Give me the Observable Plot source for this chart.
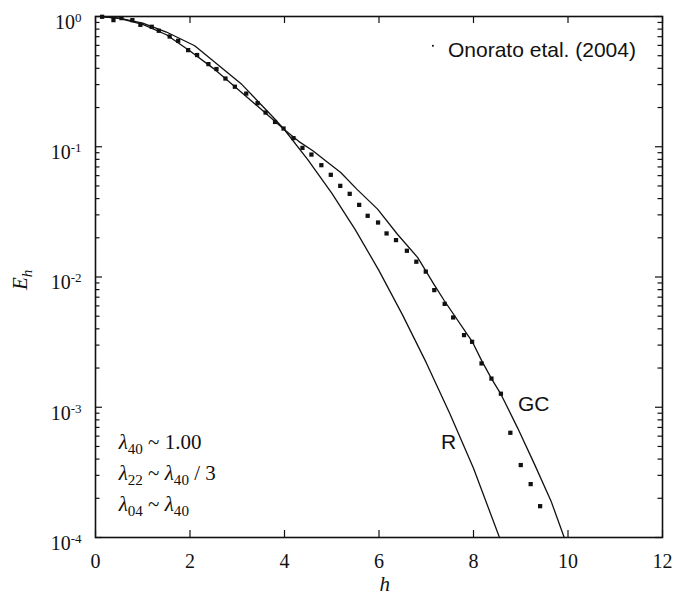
<!DOCTYPE html>
<html><head><meta charset="utf-8">
<script src="https://cdn.jsdelivr.net/npm/d3@7"></script>
<script src="https://cdn.jsdelivr.net/npm/@observablehq/plot@0.6"></script>
<style>html,body{margin:0;padding:0;background:#fff}</style>
</head><body><div id="chart"></div>
<script>
// Observed points: Onorato et al. (2004)
const obsH = [0.14,0.38,0.55,0.78,0.95,1.19,1.34,1.57,1.75,1.96,2.15,2.39,2.56,2.75,2.95,3.19,3.43,3.60,3.80,3.98,4.19,4.38,4.57,4.78,4.98,5.18,5.38,5.58,5.76,5.98,6.16,6.36,6.59,6.79,6.99,7.17,7.39,7.57,7.80,7.97,8.17,8.38,8.58,8.78,9.00,9.21,9.41];
const obsE = [0.995,0.938,0.972,0.938,0.863,0.834,0.777,0.702,0.651,0.552,0.506,0.431,0.395,0.334,0.289,0.256,0.216,0.183,0.155,0.138,0.1165,0.098,0.0871,0.0722,0.0609,0.0501,0.0435,0.0358,0.0295,0.0262,0.0216,0.0192,0.0159,0.0131,0.0110,0.00793,0.00622,0.00489,0.00358,0.00318,0.00217,0.00166,0.00127,0.000637,0.000360,0.000257,0.000174];
// GC curve
const gcH = [0.1,0.5,1.0,1.5,2.0,2.5,3.0,3.5,4.0,4.3,4.6,4.87,5.19,5.53,5.97,6.39,6.82,7.17,7.38,7.98,8.17,8.38,8.58,8.93,9.29,9.64,9.92];
const gcE = [1.0,0.966,0.871,0.724,0.543,0.398,0.279,0.195,0.135,0.110,0.0933,0.078,0.0634,0.0473,0.0332,0.0213,0.0141,0.00871,0.0066,0.00316,0.00229,0.00166,0.00126,0.000698,0.000366,0.000191,0.0001];
// R curve
const rH = [0.1,0.5,1.0,1.5,2.1,3.1,3.75,4.0,4.5,5.0,5.5,6.0,6.5,7.0,7.5,8.0,8.55];
const rE = [1.0,0.97,0.89,0.76,0.596,0.30,0.17,0.135,0.079,0.044,0.023,0.0112,0.0051,0.0022,0.00089,0.00034,0.0001];
// ticks
const xTicks = [0,2,4,6,8,10,12];
const yTicks = [1e-4,1e-3,1e-2,1e-1,1];
const yMinorFactors = [2,3,4,5,6,7,8,9];
// texts
const legendText = "Onorato etal. (2004)";
const curveNames = ["GC","R"];
const curveNameH = [8.94, 7.31];
const curveNameE = [0.00094, 0.00048];
const paramLines = ["$λ$_{40} ~ 1.00", "$λ$_{22} ~ $λ$_{40} / 3", "$λ$_{04} ~ $λ$_{40}"];
const paramH = [0.49, 0.49, 0.49];
const paramE = [4.8e-4, 2.77e-4, 1.6e-4];
const xLabel = "$h$";
const yLabel = "$E$_{$h$}";

const obs = obsH.map((h,i)=>({h, E: obsE[i]}));
const gc = gcH.map((h,i)=>({h, E: gcE[i]}));
const rr = rH.map((h,i)=>({h, E: rE[i]}));
const names = curveNames.map((t,i)=>({t, h: curveNameH[i], E: curveNameE[i]}));
const params = paramLines.map((t,i)=>({t, h: paramH[i], E: paramE[i]}));
const yMinor = yTicks.slice(0,-1).flatMap(d => yMinorFactors.map(k => k*d));

const SERIF = "'Liberation Serif', 'Times New Roman', serif";
const SANS = "'Liberation Sans', Arial, sans-serif";
const INK = "#111";
const tickStyle = {stroke: INK, strokeWidth: 1.2};

const svg = Plot.plot({
  width: 680, height: 596,
  marginLeft: 95, marginRight: 18, marginTop: 16, marginBottom: 59,
  style: {fontFamily: SERIF, fontSize: "20px", background: "#fff", color: INK},
  x: {type: "linear", domain: [0,12], axis: null},
  y: {type: "log", domain: [1e-4, 1], axis: null},
  marks: [
    Plot.axisX(xTicks, {tickSize: 0, tickPadding: 16, fontSize: 20, fontFamily: SERIF, label: null}),
    Plot.axisY(yTicks, {tickSize: 0, tickPadding: 14, fontSize: 20, fontFamily: SERIF, dy: 6, label: null,
      tickFormat: d => `10^{${Math.round(Math.log10(d))}}`}),
    // inward ticks (bottom, top, left, right)
    Plot.ruleX(xTicks, {x: d=>d, y1: 1e-4, y2: 1e-4, insetTop: -7, insetBottom: 0, ...tickStyle}),
    Plot.ruleX(xTicks, {x: d=>d, y1: 1, y2: 1, insetTop: 0, insetBottom: -7, ...tickStyle}),
    Plot.ruleY(yTicks, {y: d=>d, x1: 0, x2: 0, insetLeft: 0, insetRight: -7, ...tickStyle}),
    Plot.ruleY(yTicks, {y: d=>d, x1: 12, x2: 12, insetLeft: -7, insetRight: 0, ...tickStyle}),
    Plot.ruleY(yMinor, {y: d=>d, x1: 0, x2: 0, insetLeft: 0, insetRight: -4.5, ...tickStyle}),
    Plot.ruleY(yMinor, {y: d=>d, x1: 12, x2: 12, insetLeft: -4.5, insetRight: 0, ...tickStyle}),
    Plot.line(rr, {x: "h", y: "E", stroke: INK, strokeWidth: 1.3}),
    Plot.line(gc, {x: "h", y: "E", stroke: INK, strokeWidth: 1.3}),
    Plot.dot(obs, {x: "h", y: "E", symbol: "square", r: 2.4, fill: INK, stroke: "none"}),
    // legend
    Plot.dot([{h: 7.14, E: 0.596}], {x: "h", y: "E", symbol: "square", r: 1.0, fill: INK, stroke: "none"}),
    Plot.text([legendText], {x: 7.46, y: 0.49, text: d=>d, textAnchor: "start", lineAnchor: "bottom", fontFamily: SANS, fontSize: 21, fill: INK}),
    Plot.text(names, {x: "h", y: "E", text: "t", textAnchor: "start", lineAnchor: "bottom", fontFamily: SANS, fontSize: 21, fill: INK}),
    Plot.text(params, {x: "h", y: "E", text: "t", textAnchor: "start", lineAnchor: "bottom", fontFamily: SERIF, fontSize: 21, fill: INK}),
    Plot.text([xLabel], {x: 6.12, y: 3.9e-5, text: d=>d, textAnchor: "middle", lineAnchor: "bottom", fontFamily: SERIF, fontSize: 21, fill: INK}),
    Plot.text([yLabel], {x: -1.59, y: 0.0095, text: d=>d, textAnchor: "middle", lineAnchor: "middle", rotate: -90, fontFamily: SERIF, fontSize: 21, fill: INK}),
    Plot.frame({stroke: INK, strokeWidth: 1.6})
  ]
});

// rich text: $..$ italic, _{..} subscript, ^{..} superscript
const NS = "http://www.w3.org/2000/svg";
function rich(t) {
  const s = t.textContent;
  if (!/(\$|_\{|\^\{)/.test(s)) return;
  const parts = s.split(/(\$[^$]*\$|_\{[^}]*\}|\^\{[^}]*\})/).filter(p => p);
  t.textContent = "";
  let shift = 0;
  for (const p of parts) {
    let txt = p, dy = 0, size = null, italic = false;
    if (p.startsWith("_{")) { txt = p.slice(2,-1); dy = 5; size = "0.72em"; }
    else if (p.startsWith("^{")) { txt = p.slice(2,-1); dy = -7; size = "0.65em"; }
    if (txt.startsWith("$")) { txt = txt.replace(/\$/g, ""); italic = true; }
    const ts = document.createElementNS(NS, "tspan");
    ts.textContent = txt;
    if (dy - shift !== 0) ts.setAttribute("dy", dy - shift);
    shift = dy;
    if (size) ts.setAttribute("font-size", size);
    if (italic) ts.setAttribute("font-style", "italic");
    t.appendChild(ts);
  }
}
svg.querySelectorAll("text").forEach(rich);
document.getElementById("chart").appendChild(svg);
</script>
</body></html>
